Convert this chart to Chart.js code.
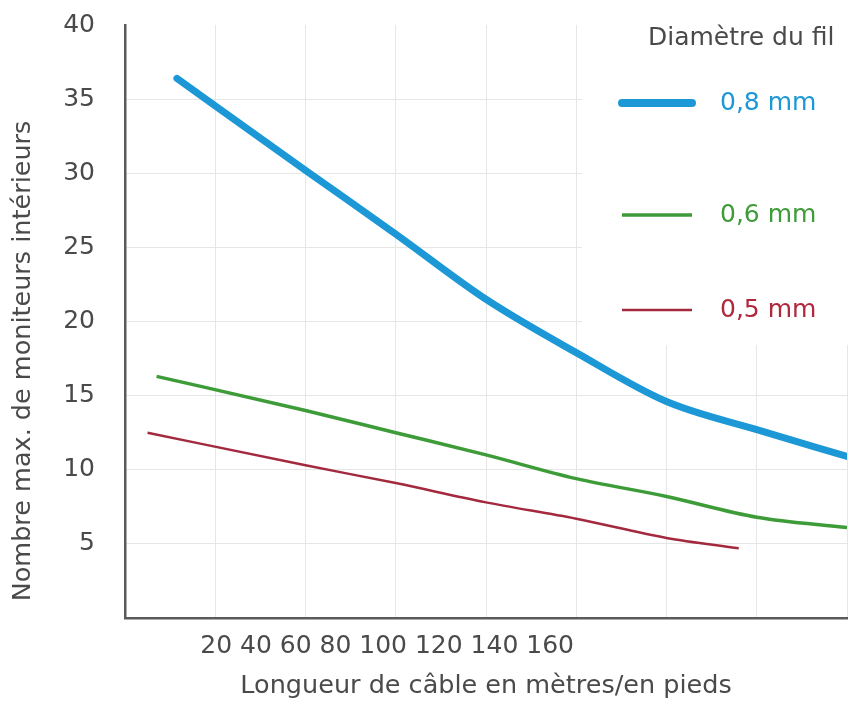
<!DOCTYPE html>
<html><head><meta charset="utf-8">
<script src="https://cdn.jsdelivr.net/npm/chart.js@4/dist/chart.umd.min.js"></script>
<style>html,body{margin:0;padding:0;background:#fff;}</style>
</head><body>
<canvas id="c" width="854" height="707"></canvas>
<script>
// ---- data ----
const seriesNames = ['0,8 mm', '0,6 mm', '0,5 mm'];
const len08 = [11.5, 40, 60, 80, 100, 120, 140, 160];
const val08 = [36.4, 30.2, 25.9, 21.5, 17.9, 14.6, 12.7, 10.9];
const len06 = [7, 40, 60, 80, 100, 120, 140, 160];
const val06 = [16.3, 14.0, 12.5, 11.0, 9.4, 8.2, 6.8, 6.1];
const len05 = [5, 40, 60, 80, 100, 120, 136];
const val05 = [12.5, 10.3, 9.1, 7.8, 6.7, 5.4, 4.7];
const tickLabels = [20, 40, 60, 80, 100, 120, 140, 160];
const yTickValues = [5, 10, 15, 20, 25, 30, 35, 40];
const legendTitle = 'Diamètre du fil';
const xTitle = 'Longueur de câble en mètres/en pieds';
const yTitle = 'Nombre max. de moniteurs intérieurs';

const pts = (xs, ys) => xs.map((x, i) => ({x: x, y: ys[i]}));

const FONT = "'DejaVu Sans', sans-serif";
const TXT = '#4a4a4a';
const GRID = '#e6e6e6';
const AXIS = '#5a5a5a';
const colors = ['#1b98d5', '#3d9b38', '#a3293f'];
const textColors = ['#1b98d5', '#3d9b38', '#b0283d'];
const widths = [7, 3.5, 2.5];

const overlay = {
  id: 'overlay',
  beforeDatasetsDraw(chart) {
    const ctx = chart.ctx;
    ctx.save();
    ctx.fillStyle = '#ffffff';
    ctx.fillRect(582, 0, 272, 345);
    ctx.restore();
  },
  afterDraw(chart) {
    const ctx = chart.ctx;
    ctx.save();
    // y axis title
    ctx.translate(23, 361);
    ctx.rotate(-Math.PI / 2);
    ctx.font = '25.5px ' + FONT;
    ctx.fillStyle = TXT;
    ctx.textAlign = 'center';
    ctx.textBaseline = 'middle';
    ctx.fillText(yTitle, 0, 0);
    ctx.restore();

    // legend
    ctx.save();
    ctx.font = '25px ' + FONT;
    ctx.fillStyle = TXT;
    ctx.textAlign = 'left';
    ctx.textBaseline = 'middle';
    ctx.fillText(legendTitle, 648, 38);
    const ys = [103, 215, 310];
    chart.data.datasets.forEach((ds, i) => {
      ctx.strokeStyle = ds.borderColor;
      ctx.lineWidth = ds.borderWidth + (i === 0 ? 1 : 0);
      ctx.lineCap = i === 0 ? 'round' : 'butt';
      ctx.beginPath();
      ctx.moveTo(622, ys[i]);
      ctx.lineTo(692, ys[i]);
      ctx.stroke();
      ctx.fillStyle = textColors[i];
      ctx.font = '25px ' + FONT;
      ctx.fillText(ds.label, 720, ys[i]);
    });
    ctx.restore();
  }
};

new Chart(document.getElementById('c'), {
  type: 'line',
  data: {
    datasets: [
      {label: seriesNames[0], data: pts(len08, val08)},
      {label: seriesNames[1], data: pts(len06, val06)},
      {label: seriesNames[2], data: pts(len05, val05)}
    ].map((d, i) => Object.assign(d, {
      borderColor: colors[i],
      borderWidth: widths[i],
      borderCapStyle: i === 0 ? 'round' : 'butt',
      pointRadius: 0,
      fill: false,
      cubicInterpolationMode: 'monotone'
    }))
  },
  options: {
    responsive: false,
    animation: false,
    devicePixelRatio: 1,
    layout: {autoPadding: false, padding: {top: 25, right: 7, left: 0, bottom: 0}},
    plugins: {legend: {display: false}, tooltip: {enabled: false}},
    scales: {
      x: {
        type: 'linear', min: 0, max: 160,
        afterFit: s => { s.height = 89; s.paddingLeft = 0; s.paddingRight = 0; },
        border: {display: true, color: AXIS, width: 2.5},
        grid: {color: GRID, lineWidth: 1, drawTicks: false},
        ticks: {
          stepSize: 20, autoSkip: false, maxRotation: 0, minRotation: 0,
          align: 'start', labelOffset: -15, padding: 13,
          color: TXT, font: {family: FONT, size: 25},
          callback: v => v === tickLabels[0] ? tickLabels.join(' ') : ''
        },
        title: {display: true, text: xTitle, color: TXT, font: {family: FONT, size: 25.5}, padding: {top: 0, bottom: 5}}
      },
      y: {
        min: 0, max: 40,
        afterFit: s => { s.width = 125; s.paddingTop = 0; s.paddingBottom = 0; },
        afterBuildTicks: s => { s.ticks = [0].concat(yTickValues).map(v => ({value: v})); },
        border: {display: true, color: AXIS, width: 2.5},
        grid: {
          drawTicks: false, lineWidth: 1,
          color: c => (c.tick && c.tick.value === yTickValues[yTickValues.length - 1]) ? 'rgba(0,0,0,0)' : GRID
        },
        ticks: {
          padding: 30, color: TXT, font: {family: FONT, size: 25},
          callback: v => v === 0 ? '' : v
        }
      }
    }
  },
  plugins: [overlay]
});
</script>
</body></html>
